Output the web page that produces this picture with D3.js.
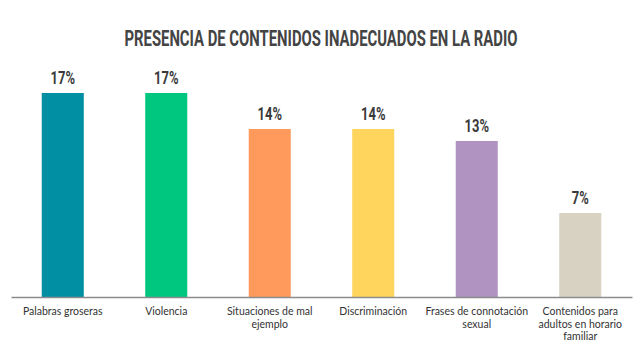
<!DOCTYPE html>
<html>
<head>
<meta charset="utf-8">
<script src="https://cdn.jsdelivr.net/npm/d3@7"></script>
<style>
  body { margin: 0; background: #fff; }
  svg { display: block; }
</style>
</head>
<body>
<svg id="chart" width="640" height="364"></svg>
<script>
// data
const categories = [
  "Palabras groseras",
  "Violencia",
  "Situaciones de mal\nejemplo",
  "Discriminación",
  "Frases de connotación\nsexual",
  "Contenidos para\nadultos en horario\nfamiliar"
];
const values = [17, 17, 14, 14, 13, 7];
const barColors = ["#008fa3", "#00c77f", "#ff9a5c", "#ffd55e", "#b093c0", "#d8d2c2"];
const title = "PRESENCIA DE CONTENIDOS INADECUADOS EN LA RADIO";

const svg = d3.select("#chart");
const margin = { left: 11, right: 8, top: 57, bottom: 67 };
const width = 640, height = 364;
const baseY = height - margin.bottom;

const x = d3.scaleBand()
  .domain(categories)
  .range([margin.left, width - margin.right])
  .paddingInner(0.594)
  .paddingOuter(0.297);

const y = d3.scaleLinear().domain([0, 20]).range([baseY, margin.top]);

// no condensed face installed, so a bold face gets squeezed sideways
const titleG = svg.append("g")
  .attr("transform", "translate(321, 45.5) scale(0.66, 1)");
titleG.append("text")
  .attr("text-anchor", "middle")
  .style("font-family", "Roboto, sans-serif")
  .style("font-weight", "bold")
  .style("font-size", "22.5px")
  .attr("fill", "#444")
  .text(title);

const data = categories.map((c, i) => ({ cat: c, value: values[i], color: barColors[i] }));

svg.selectAll(".bar")
  .data(data)
  .enter().append("rect")
  .attr("class", "bar")
  .attr("x", d => x(d.cat))
  .attr("y", d => y(d.value))
  .attr("width", x.bandwidth())
  .attr("height", d => baseY - y(d.value))
  .attr("fill", d => d.color);

svg.selectAll(".val")
  .data(data)
  .enter().append("g")
  .attr("class", "val")
  .attr("transform", d => `translate(${x(d.cat) + x.bandwidth() / 2}, ${y(d.value) - 9.5}) scale(0.74, 1)`)
  .append("text")
  .attr("text-anchor", "middle")
  .style("font-family", "Roboto, sans-serif")
  .style("font-weight", "bold")
  .style("font-size", "17.5px")
  .attr("fill", "#3a3a3a")
  .text(d => d.value + "%");

// x axis: plain line, no ticks
const axis = svg.append("g")
  .attr("transform", `translate(0, ${baseY})`)
  .call(d3.axisBottom(x).tickSize(0).tickSizeOuter(0).tickFormat(""));
axis.select(".domain").attr("stroke", "#8c8c8c").attr("stroke-width", 1.5);

const lbl = svg.selectAll(".cat")
  .data(data)
  .enter().append("text")
  .attr("class", "cat")
  .attr("x", d => x(d.cat) + x.bandwidth() / 2)
  .attr("y", baseY + 18)
  .attr("text-anchor", "middle")
  .style("font-family", "Lato, 'Open Sans', sans-serif")
  .style("font-size", "10.5px")
  .attr("fill", "#333");

lbl.selectAll("tspan")
  .data(d => d.cat.split("\n"))
  .enter().append("tspan")
  .attr("x", function() { return d3.select(this.parentNode).attr("x"); })
  .attr("dy", (d, i) => i === 0 ? 0 : 12.5)
  .text(d => d);
</script>
</body>
</html>
